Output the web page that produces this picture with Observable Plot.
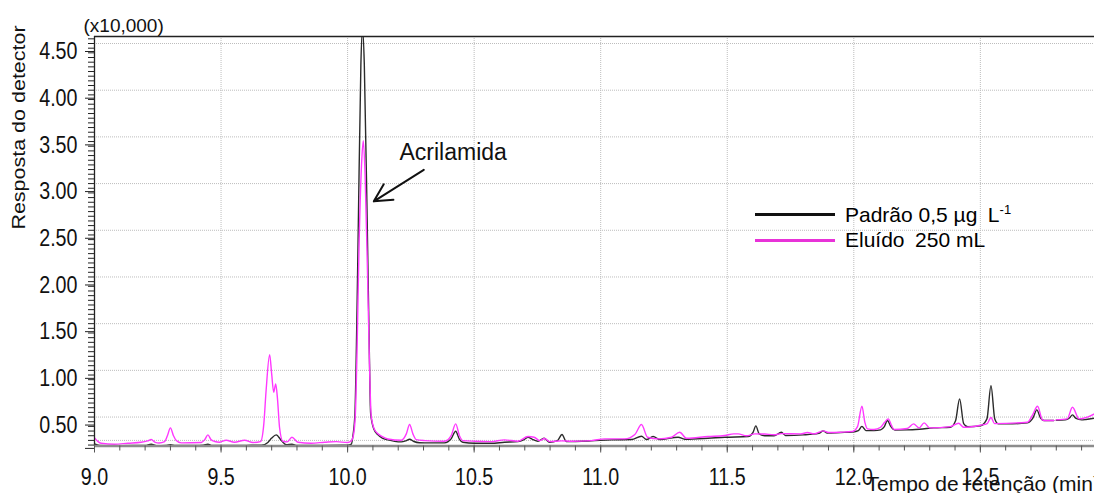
<!DOCTYPE html>
<html>
<head>
<meta charset="utf-8">
<script src="https://cdn.jsdelivr.net/npm/d3@7"></script>
<script src="https://cdn.jsdelivr.net/npm/@observablehq/plot@0.6"></script>
<style>
  html, body { margin: 0; padding: 0; background: #fff; overflow: hidden; }
  #chart { position: relative; width: 1094px; height: 493px; overflow: hidden; }
  .legend { position: absolute; left: 0; top: 0; font-family: "Liberation Sans", Arial, sans-serif; font-size: 21px; color: #000; }
  .legend .sw { position: absolute; left: 755px; width: 80px; height: 3px; }
  .legend .lb { position: absolute; left: 845px; line-height: 21px; white-space: nowrap; }
  .legend sup { font-size: 13px; line-height: 0; vertical-align: 8px; }
</style>
</head>
<body>
<div id="chart"></div>
<script>
// Axis domains (retention time in min, detector response in units of 10,000)
const xDomain = [9.0, 12.951];
const yDomain = [0.19, 4.575];

// Labelled ticks
const xTicks = [9.0, 9.5, 10.0, 10.5, 11.0, 11.5, 12.0, 12.5];
const yTicks = [0.50, 1.00, 1.50, 2.00, 2.50, 3.00, 3.50, 4.00, 4.50];
const yExtraGrid = [0.25];

// Chromatogram of the 0.5 µg/L standard: [retention time, response]
const padrao = [
  [9.000,0.212],[9.020,0.196],[9.080,0.194],[9.150,0.195],[9.200,0.196],[9.224,0.209],[9.245,0.193],
  [9.280,0.196],[9.300,0.203],[9.320,0.195],[9.400,0.195],[9.430,0.198],[9.448,0.209],[9.465,0.196],
  [9.530,0.196],[9.600,0.197],[9.660,0.198],[9.685,0.228],[9.700,0.275],[9.718,0.309],[9.738,0.250],
  [9.758,0.203],[9.780,0.209],[9.800,0.196],[9.900,0.197],[10.000,0.199],[10.015,0.210],[10.021,0.300],
  [10.029,0.540],[10.036,1.450],[10.042,2.500],[10.0525,4.280],[10.059,4.660],[10.066,4.280],[10.078,2.500],
  [10.085,1.350],[10.091,0.540],[10.104,0.370],[10.120,0.310],[10.137,0.275],[10.160,0.255],[10.186,0.240],
  [10.212,0.234],[10.230,0.245],[10.245,0.262],[10.262,0.238],[10.284,0.225],[10.304,0.224],[10.383,0.224],
  [10.409,0.266],[10.427,0.348],[10.442,0.260],[10.455,0.230],[10.502,0.220],[10.567,0.220],[10.620,0.230],
  [10.673,0.237],[10.695,0.255],[10.713,0.284],[10.730,0.262],[10.752,0.241],[10.776,0.273],[10.798,0.230],
  [10.829,0.248],[10.847,0.313],[10.864,0.237],[10.963,0.245],[11.042,0.256],[11.122,0.259],[11.161,0.295],
  [11.181,0.259],[11.207,0.291],[11.234,0.259],[11.306,0.284],[11.332,0.263],[11.424,0.273],[11.490,0.284],
  [11.582,0.291],[11.602,0.337],[11.613,0.405],[11.626,0.320],[11.648,0.300],[11.685,0.300],[11.714,0.337],
  [11.730,0.303],[11.800,0.309],[11.862,0.325],[11.879,0.352],[11.895,0.328],[11.948,0.334],[11.995,0.340],
  [12.018,0.355],[12.032,0.400],[12.048,0.355],[12.080,0.355],[12.106,0.363],[12.120,0.395],[12.133,0.463],
  [12.146,0.400],[12.162,0.362],[12.211,0.363],[12.260,0.370],[12.316,0.384],[12.382,0.391],[12.402,0.460],
  [12.418,0.695],[12.434,0.430],[12.450,0.396],[12.500,0.405],[12.526,0.480],[12.542,0.837],[12.557,0.480],
  [12.572,0.427],[12.607,0.427],[12.686,0.438],[12.708,0.490],[12.723,0.577],[12.738,0.490],[12.752,0.463],
  [12.790,0.463],[12.794,null],[12.800,0.465],[12.835,0.470],[12.852,0.490],[12.864,0.523],[12.878,0.485],
  [12.900,0.470],[12.917,0.474],[12.951,0.488]
];

// Chromatogram of the 250 mL eluate: [retention time, response]
const eluido = [
  [9.000,0.277],[9.013,0.240],[9.026,0.220],[9.079,0.209],[9.132,0.220],[9.184,0.230],[9.210,0.245],
  [9.224,0.259],[9.240,0.228],[9.255,0.222],[9.277,0.237],[9.288,0.300],[9.300,0.384],[9.312,0.300],
  [9.323,0.248],[9.343,0.223],[9.422,0.227],[9.436,0.260],[9.448,0.309],[9.460,0.260],[9.475,0.238],
  [9.494,0.230],[9.520,0.252],[9.553,0.230],[9.593,0.252],[9.626,0.227],[9.656,0.237],[9.669,0.427],
  [9.678,0.784],[9.692,1.169],[9.700,0.962],[9.708,0.766],[9.716,0.855],[9.723,0.695],[9.731,0.391],
  [9.744,0.241],[9.761,0.234],[9.780,0.284],[9.804,0.230],[9.856,0.220],[9.909,0.230],[9.955,0.237],
  [10.000,0.227],[10.013,0.241],[10.018,0.260],[10.024,0.320],[10.031,0.550],[10.038,1.300],[10.045,2.300],
  [10.055,3.200],[10.062,3.460],[10.069,3.100],[10.079,2.000],[10.087,1.000],[10.093,0.520],[10.104,0.380],
  [10.120,0.320],[10.137,0.290],[10.159,0.265],[10.212,0.252],[10.232,0.320],[10.245,0.420],[10.258,0.320],
  [10.271,0.258],[10.304,0.248],[10.383,0.241],[10.409,0.300],[10.427,0.427],[10.442,0.300],[10.455,0.248],
  [10.502,0.241],[10.567,0.237],[10.620,0.256],[10.673,0.241],[10.713,0.291],[10.737,0.284],[10.759,0.248],
  [10.778,0.270],[10.798,0.237],[10.845,0.245],[10.884,0.241],[10.963,0.248],[11.016,0.266],[11.095,0.266],
  [11.135,0.313],[11.161,0.420],[11.185,0.284],[11.227,0.266],[11.280,0.284],[11.312,0.337],[11.339,0.273],
  [11.424,0.291],[11.490,0.302],[11.526,0.320],[11.543,0.320],[11.576,0.300],[11.609,0.320],[11.648,0.318],
  [11.685,0.310],[11.714,0.322],[11.790,0.320],[11.817,0.334],[11.843,0.320],[11.879,0.352],[11.900,0.335],
  [11.948,0.338],[11.995,0.345],[12.015,0.400],[12.032,0.616],[12.044,0.440],[12.054,0.374],[12.080,0.367],
  [12.106,0.391],[12.122,0.444],[12.136,0.480],[12.149,0.410],[12.159,0.366],[12.211,0.377],[12.236,0.427],
  [12.258,0.384],[12.278,0.438],[12.300,0.384],[12.382,0.398],[12.414,0.434],[12.434,0.390],[12.500,0.412],
  [12.527,0.430],[12.542,0.495],[12.556,0.430],[12.686,0.445],[12.706,0.520],[12.726,0.616],[12.745,0.470],
  [12.752,0.463],[12.790,0.463],[12.794,null],[12.800,0.470],[12.843,0.480],[12.864,0.605],[12.890,0.480],
  [12.923,0.500],[12.951,0.534]
];

// Peak annotation
const annotationLabel = [{t: 10.205, v: 3.33, text: "Acrilamida"}];
const annotationArrow = [{t1: 10.301, v1: 3.147, t2: 10.1035, v2: 2.81}];

const textFont = "'Liberation Sans', Arial, sans-serif";

const xMinorTicks = d3.range(90, 130).map(i => i / 10);
const yMinorTicks = d3.range(4, 92).map(i => i * 0.05);
const grid = {stroke: "#bdbdbd", strokeOpacity: 1, strokeWidth: 1, strokeDasharray: "1,1"};

const chart = Plot.plot({
  width: 1094,
  height: 493,
  marginLeft: 94,
  marginRight: 0,
  marginTop: 36,
  marginBottom: 47.5,
  style: {fontFamily: textFont, background: "#fff", overflow: "hidden"},
  x: {domain: xDomain},
  y: {domain: yDomain},
  marks: [
    Plot.gridX(xTicks.slice(1), grid),
    Plot.gridY([...yExtraGrid, ...yTicks], grid),

    // traces
    Plot.line(padrao, {x: d => d[0], y: d => d[1], curve: "monotone-x", stroke: "#2b2b2b", strokeWidth: 1.4, clip: true}),
    Plot.line(eluido, {x: d => d[0], y: d => d[1], curve: "monotone-x", stroke: "#ff38ff", strokeWidth: 1.4, clip: true}),

    // frame lines
    Plot.ruleY([yDomain[1]], {stroke: "#222", strokeWidth: 1.3}),
    Plot.ruleX([xDomain[0]], {stroke: "#222", strokeWidth: 1.3}),
    Plot.ruleY([yDomain[0]], {stroke: "#8c8c8c", strokeWidth: 2.5}),

    // x axis
    Plot.axisX(xMinorTicks, {tickSize: 5, stroke: "#555", tickFormat: () => "", label: null}),
    Plot.axisX(xTicks, {tickSize: 7, tickPadding: 15, stroke: "#555", tickFormat: d => d.toFixed(1),
      fontSize: 24, fontFamily: textFont, fill: "#111", label: null}),

    // y axis
    Plot.axisY(yMinorTicks, {tickSize: 6, stroke: "#222", tickFormat: () => "", label: null}),
    Plot.axisY([...yExtraGrid, ...yTicks], {tickSize: 9, tickPadding: 8, stroke: "#222",
      tickFormat: d => yTicks.includes(d) ? d.toFixed(2) : "", dy: 8,
      fontSize: 24, fontFamily: textFont, fill: "#111", label: null}),

    // axis titles and scale factor
    Plot.text(["Resposta do detector"], {frameAnchor: "top-left", dx: -75, dy: 91, rotate: -90,
      textAnchor: "middle", lineAnchor: "middle", fontSize: 21.5, fontFamily: textFont, fill: "#111"}),
    Plot.text(["(x10,000)"], {frameAnchor: "top-left", dx: -11, dy: -11, textAnchor: "start",
      lineAnchor: "middle", fontSize: 19, fontFamily: textFont, fill: "#111"}),
    Plot.text(["Tempo de retenção (min)"], {frameAnchor: "bottom-left", dx: 772, dy: 44.5, textAnchor: "start",
      lineAnchor: "bottom", fontSize: 21, fontFamily: textFont, fill: "#111"}),

    // annotation
    Plot.arrow(annotationArrow, {x1: "t1", y1: "v1", x2: "t2", y2: "v2", stroke: "#111",
      strokeWidth: 2, headLength: 15, headAngle: 55}),
    Plot.text(annotationLabel, {x: "t", y: "v", text: "text", textAnchor: "start", lineAnchor: "middle",
      fontSize: 23, fontFamily: textFont, fill: "#111"})
  ]
});

// Tick labels use a condensed face: narrow each glyph run around its anchor
d3.select(chart)
  .selectAll('g[aria-label="x-axis tick label"] text, g[aria-label="y-axis tick label"] text')
  .attr("transform", function() { return (this.getAttribute("transform") || "") + " scale(0.82,1)"; });

// Rotated axis title with slightly flattened glyphs
d3.select(chart).selectAll("text")
  .filter(function() { return this.textContent === "Resposta do detector"; })
  .attr("transform", function() { return (this.getAttribute("transform") || "") + " scale(1,0.85)"; });

const host = document.getElementById("chart");
host.appendChild(chart);

// Legend
const legend = document.createElement("div");
legend.className = "legend";
legend.innerHTML = `
  <div class="sw" style="top:213px;background:#111"></div>
  <div class="lb" style="top:204px">Padrão 0,5 µg&ensp;L<sup>-1</sup></div>
  <div class="sw" style="top:239px;background:#e832d8"></div>
  <div class="lb" style="top:229px">Eluído&ensp;250 mL</div>`;
host.appendChild(legend);
</script>
</body>
</html>
